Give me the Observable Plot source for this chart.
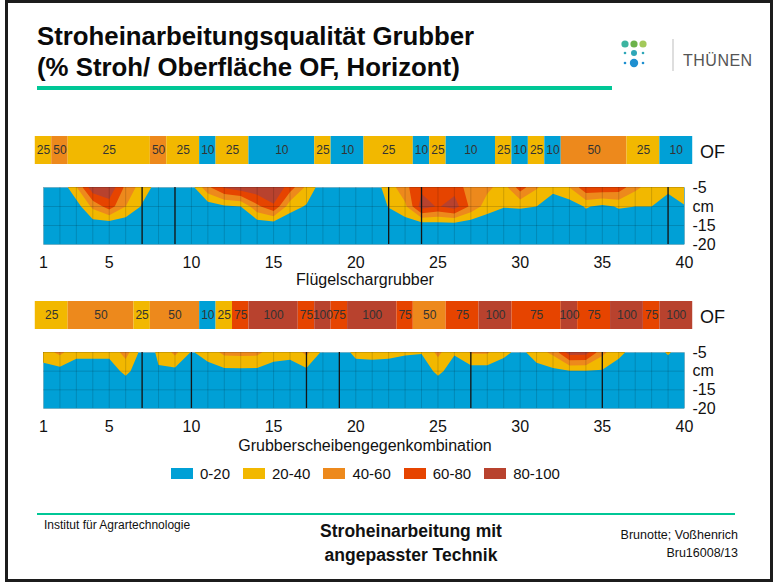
<!DOCTYPE html>
<html><head><meta charset="utf-8">
<script src="https://cdn.jsdelivr.net/npm/d3@7"></script>
<script src="https://cdn.jsdelivr.net/npm/@observablehq/plot@0.6"></script>
<style>
html,body{margin:0;padding:0;background:#fff;}
#slide{position:relative;width:776px;height:582px;overflow:hidden;background:#fff;font-family:Arial,"Liberation Sans",Helvetica,sans-serif;color:#111;}
#slide .a{position:absolute;white-space:nowrap;line-height:1;}
#slide svg{overflow:visible;}
</style></head><body><div id="slide"></div>
<script>
// ---------- data ----------
const positions = [1,2,3,4,5,6,7,8,9,10,11,12,13,14,15,16,17,18,19,20,21,22,23,24,25,26,27,28,29,30,31,32,33,34,35,36,37,38,39,40];
const xTicks = [1,5,10,15,20,25,30,35,40];
const depths = [-5,-10,-15,-20];
const depthLabels = ["-5","cm","-15","-20"];

const classBreaks = [20,40,60,80];
const classLabels = ["0-20","20-40","40-60","60-80","80-100"];
const classColors = ["#00a0d6","#f2b800","#ed891c","#e64400","#b8422e"];

// Panel 1: Flügelschargrubber
const title1 = "Flügelschargrubber";
const of1 = [25,50,25,25,25,25,25,50,25,25,10,25,25,10,10,10,10,25,10,10,25,25,25,10,25,10,10,10,25,10,25,10,50,50,50,50,25,25,10,10];
const breaks1 = [7,9,22,24,39];
const heat1_d5  = [5,3,38,95,95,55,30,12,8,12,55,82,92,95,98,70,35,8,8,8,10,28,55,75,75,72,50,45,30,70,42,25,40,75,75,72,45,30,26,30];
const heat1_d10 = [5,5,10,45,70,40,18,8,5,5,8,17,20,55,77,28,18,5,5,5,5,21,35,90,78,90,55,30,21,22,20,10,8,22,15,22,20,20,8,19];
const heat1_d15 = [5,5,5,8,5,5,5,5,5,5,5,5,5,5,5,5,5,5,5,5,5,5,8,5,8,8,5,5,5,5,5,5,5,5,5,5,5,5,5,5];
const heat1_d20 = [5,5,5,5,5,5,5,5,5,5,5,5,5,5,5,5,5,5,5,5,5,5,5,5,5,5,5,5,5,5,5,5,5,5,5,5,5,5,5,5];

// Panel 2: Grubberscheibengegenkombination
const title2 = "Grubberscheibengegenkombination";
const of2 = [25,25,50,50,50,50,25,50,50,50,10,25,75,100,100,100,75,100,75,100,100,100,75,50,50,75,75,100,100,75,75,75,100,75,75,100,100,75,100,100];
const breaks2 = [7,10,17,19,27,35];
const heat2_d5  = [30,45,25,25,25,48,12,22,45,18,28,45,46,45,28,25,45,15,12,24,25,24,22,21,45,22,42,42,25,14,30,45,90,88,45,25,12,10,22,10];
const heat2_d10 = [12,12,10,10,10,25,8,19,14,8,12,15,15,15,12,12,15,8,8,12,12,12,10,8,25,10,10,10,8,8,12,15,18,18,18,10,8,8,8,8];
const heat2_d15 = [5,5,5,5,5,5,5,5,5,5,5,5,5,5,5,5,5,5,5,5,5,5,5,5,5,5,5,5,5,5,5,5,5,5,5,5,5,5,5,5];
const heat2_d20 = [5,5,5,5,5,5,5,5,5,5,5,5,5,5,5,5,5,5,5,5,5,5,5,5,5,5,5,5,5,5,5,5,5,5,5,5,5,5,5,5];

// ---------- helpers ----------
const slide = document.getElementById("slide");
const FONT = 'Arial,"Liberation Sans",Helvetica,sans-serif';
function txt(text, x, y, size, opts = {}) {
  const d = document.createElement("div");
  d.className = "a";
  d.textContent = text;
  d.style.left = x + "px";
  d.style.top = y + "px";
  d.style.fontSize = size + "px";
  if (opts.bold) d.style.fontWeight = "bold";
  if (opts.color) d.style.color = opts.color;
  const ax = opts.anchor === "middle" ? "-50%" : opts.anchor === "end" ? "-100%" : "0";
  d.style.transform = `translate(${ax},-50%)`;
  slide.appendChild(d);
  return d;
}
function box(x, y, w, h, css) {
  const d = document.createElement("div");
  d.style.position = "absolute";
  d.style.left = x + "px"; d.style.top = y + "px";
  d.style.width = w + "px"; d.style.height = h + "px";
  Object.assign(d.style, css);
  slide.appendChild(d);
  return d;
}
function put(node, x, y) {
  node.style.position = "absolute";
  node.style.left = x + "px";
  node.style.top = y + "px";
  slide.appendChild(node);
}
function runsOf(vals) {
  const runs = [];
  vals.forEach((v, i) => {
    const p = positions[i];
    const last = runs[runs.length - 1];
    if (last && last.v === v) last.end = p; else runs.push({v, start: p, end: p});
  });
  return runs;
}
const colorScale = {type: "threshold", domain: classBreaks, range: classColors};
const W = 776, ML = 43, MR = 92;

function strip(vals) {
  const runs = runsOf(vals);
  return Plot.plot({
    width: W, height: 28, marginTop: 0, marginBottom: 0, marginLeft: ML, marginRight: MR,
    x: {domain: [1, 40], axis: null},
    color: colorScale,
    style: {fontFamily: FONT, background: "transparent", overflow: "visible"},
    marks: [
      Plot.rect(runs, {x1: d => d.start - 0.5, x2: d => d.end + 0.5, fill: d => d.v}),
      Plot.text(runs, {x: d => (d.start + d.end) / 2, text: d => String(d.v), fill: "#333", fontSize: 12})
    ]
  });
}

function heat(rows, breaks, h) {
  const grid = [].concat(...rows);
  return Plot.plot({
    width: W, height: 10 + h + 40, marginTop: 10, marginBottom: 40, marginLeft: ML, marginRight: MR,
    x: {domain: [1, 40], ticks: xTicks, tickSize: 0, tickPadding: 12, label: null},
    y: {domain: [-20, -5], ticks: depths, tickFormat: d => depthLabels[depths.indexOf(d)], axis: "right", tickSize: 0, tickPadding: 8, label: null},
    color: colorScale,
    style: {fontFamily: FONT, fontSize: "16px", color: "#111", background: "transparent", overflow: "visible"},
    marks: [
      Plot.frame({fill: classColors[0], stroke: "none"}),
      Plot.contour(grid, {value: d => d, width: 40, height: 4, x1: 0.5, x2: 40.5, y1: -2.5, y2: -22.5,
        thresholds: classBreaks, fill: "value", stroke: "none", clip: true}),
      Plot.ruleX(positions, {stroke: "#000", strokeOpacity: 0.15, strokeWidth: 1}),
      Plot.ruleY(depths, {stroke: "#000", strokeOpacity: 0.15, strokeWidth: 1}),
      Plot.ruleX(breaks, {stroke: "#151515", strokeWidth: 1.3})
    ]
  });
}

// ---------- frame & header ----------
box(5, 0, 768, 582, {border: "3px solid #1c1c1c", boxSizing: "border-box"});
const t = document.createElement("div");
t.style.cssText = "position:absolute;left:37px;top:20.5px;font-size:25.8px;font-weight:bold;line-height:31px;white-space:nowrap;color:#0a0a0a";
t.innerHTML = "Stroheinarbeitungsqualität Grubber<br>(% Stroh/ Oberfläche OF, Horizont)";
slide.appendChild(t);
box(37, 86, 575, 4, {background: "#00c796"});

// logo
const logo = document.createElementNS("http://www.w3.org/2000/svg", "svg");
logo.setAttribute("width", "60"); logo.setAttribute("height", "40");
logo.innerHTML = `
<circle cx="8" cy="6" r="3.6" fill="#3cb4a0"/><circle cx="17" cy="6" r="3.6" fill="#6cb24a"/><circle cx="26" cy="6" r="3.6" fill="#a3c95a"/>
<circle cx="8" cy="15" r="1.3" fill="#2fa7b8"/><circle cx="17" cy="15" r="3" fill="#2fa7b8"/><circle cx="26" cy="15" r="1.3" fill="#2fa7b8"/>
<circle cx="8" cy="25" r="1.3" fill="#1e8fd0"/><circle cx="17" cy="25" r="4.2" fill="#1e8fd0"/><circle cx="26" cy="25" r="1.3" fill="#1e8fd0"/>
<line x1="56" y1="1" x2="56" y2="33" stroke="#bdbdbd" stroke-width="1"/>`;
put(logo, 617, 38);
txt("THÜNEN", 683, 61, 16, {color: "#555"}).style.letterSpacing = "0.5px";

// ---------- panel 1 ----------
put(strip(of1), 0, 136);
txt("OF", 700, 152, 18);
put(heat([heat1_d5, heat1_d10, heat1_d15, heat1_d20], breaks1, 57), 0, 177);
txt(title1, 365, 280, 16, {anchor: "middle"});

// ---------- panel 2 ----------
put(strip(of2), 0, 301);
txt("OF", 700, 317, 18);
put(heat([heat2_d5, heat2_d10, heat2_d15, heat2_d20], breaks2, 56), 0, 342);
txt(title2, 365, 446, 16, {anchor: "middle"});

// ---------- legend ----------
const lg = document.createElement("div");
lg.style.cssText = "position:absolute;left:171px;top:466px;display:flex;align-items:center;gap:13px;font-size:15px;line-height:15px";
classLabels.forEach((l, i) => {
  const it = document.createElement("div");
  it.style.cssText = "display:flex;align-items:center;gap:7px";
  const sw = document.createElement("div");
  sw.style.cssText = `width:22px;height:11px;background:${classColors[i]}`;
  const lb = document.createElement("span");
  lb.textContent = l;
  it.appendChild(sw); it.appendChild(lb);
  lg.appendChild(it);
});
slide.appendChild(lg);

// ---------- footer ----------
box(37, 513, 698, 2, {background: "#00c796"});
txt("Institut für Agrartechnologie", 44, 525, 12);
txt("Stroheinarbeitung mit", 411, 532, 17.5, {bold: true, anchor: "middle"});
txt("angepasster Technik", 411, 556, 17.5, {bold: true, anchor: "middle"});
txt("Brunotte; Voßhenrich", 738, 535, 12.5, {anchor: "end"});
txt("Bru16008/13", 738, 553, 12.5, {anchor: "end"});
</script>
</body></html>
